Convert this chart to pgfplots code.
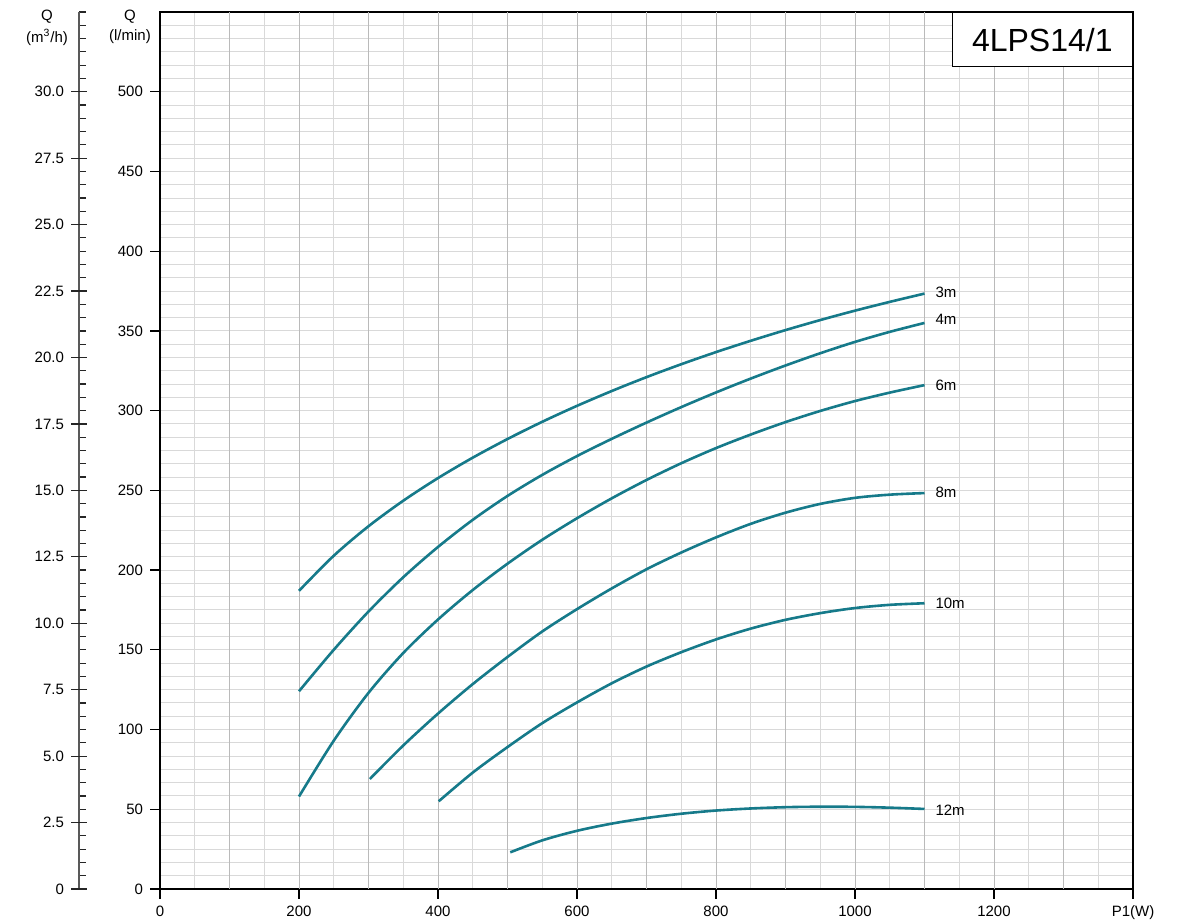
\documentclass[border=0pt]{standalone}
\usepackage{fontspec}
\setmainfont{Liberation Sans}
\usepackage{pgfplots}
\pgfplotsset{compat=1.18}
\definecolor{curve}{RGB}{22,122,138}
\begin{document}
\begin{tikzpicture}
\useasboundingbox (0,0) rectangle (590pt,461pt);
\begin{axis}[
 at={(80pt,16.5pt)}, anchor=south west,
 scale only axis, width=486.5pt, height=438.5pt,
 xmin=0,xmax=1400,ymin=0,ymax=550,
 axis line style={line width=0.8pt},
 xtick={0,200,...,1400}, xticklabels={0,200,400,600,800,1000,1200,P1(W)},
 ytick={0,50,...,500},
 tick pos=left,
 tick align=outside, major tick length=5pt,
 tick style={black, line width=0.6pt},
 minor xtick={50,100,...,1350},
 minor ytick={8.33333,16.66667,...,545},
 minor tick length=0pt,
 grid=minor,
 minor grid style={black!15, line width=0.5pt},
 extra x ticks={100,200,...,1300},
 extra x tick labels={},
 extra x tick style={grid=major, major grid style={black!27, line width=0.5pt}, major tick length=0pt},
 ticklabel style={font=\fontsize{7.5}{9}\selectfont},
 /pgf/number format/assume math mode=true,
 clip=false,
]
\addplot[curve, line width=1.3pt, smooth] coordinates {(200,187)(250,209)(300,227.5)(350,243.5)(400,257.7)(450,270.5)(500,282.2)(550,293)(600,303)(650,312.3)(700,321)(750,329.1)(800,336.7)(850,343.8)(900,350.5)(950,356.8)(1000,362.7)(1050,368.2)(1100,373.4)};
\addplot[curve, line width=1.3pt, smooth] coordinates {(200,124)(250,150)(300,174)(350,195.5)(400,214.5)(450,231.5)(500,246.5)(550,259.7)(600,271.5)(650,282.3)(700,292.5)(750,302.2)(800,311.4)(850,320.1)(900,328.3)(950,336)(1000,343.1)(1050,349.4)(1100,355)};
\addplot[curve, line width=1.3pt, smooth] coordinates {(200,58)(250,93)(300,123)(350,148)(400,169)(450,187.5)(500,204)(550,219)(600,232.5)(650,245)(700,256.5)(750,267)(800,276.5)(850,285)(900,292.8)(950,299.8)(1000,306)(1050,311.3)(1100,316)};
\addplot[curve, line width=1.3pt, smooth] coordinates {(302,69)(350,90)(400,110)(450,128.5)(500,145.5)(550,161.5)(600,175.5)(650,188.5)(700,200.5)(750,211)(800,220.5)(850,229)(900,236)(950,241.5)(1000,245.3)(1050,247.3)(1100,248.3)};
\addplot[curve, line width=1.3pt, smooth] coordinates {(401,55)(450,73)(500,89)(550,104)(600,117)(650,129)(700,139.5)(750,148.5)(800,156.5)(850,163.3)(900,168.8)(950,173)(1000,176.2)(1050,178.2)(1100,179.2)};
\addplot[curve, line width=1.3pt, smooth] coordinates {(504,23)(550,30.5)(600,36.5)(650,41)(700,44.5)(750,47.2)(800,49.2)(850,50.5)(900,51.3)(950,51.6)(1000,51.5)(1050,51)(1100,50.2)};
\begin{scope}[every node/.style={anchor=west, font=\fontsize{7.5}{9}\selectfont, xshift=2pt}]
\node at (axis cs:1100,374) {3m};
\node at (axis cs:1100,357) {4m};
\node at (axis cs:1100,316) {6m};
\node at (axis cs:1100,249) {8m};
\node at (axis cs:1100,179) {10m};
\node at (axis cs:1100,49.5) {12m};
\end{scope}
\node[draw, fill=white, line width=0.7pt, anchor=north east, minimum width=90pt, minimum height=27pt, font=\fontsize{16}{18}\selectfont] at (rel axis cs:1,1) {4LPS14/1};
\end{axis}
\begin{axis}[
 at={(39.5pt,16.5pt)}, anchor=south west, scale only axis, width=10pt, height=438.5pt,
 xmin=0,xmax=1,ymin=0,ymax=33,
 hide x axis,
 axis y line=left, axis line style={-, black!65, line width=1pt},
 ytick={0,2.5,...,30}, yticklabels={0,2.5,5.0,7.5,10.0,12.5,15.0,17.5,20.0,22.5,25.0,27.5,30.0},
 minor ytick={0,0.5,...,33.2},
 tick align=inside, major tick length=3.5pt, minor tick length=3.5pt,
 tick style={black!85, line width=0.6pt},
 extra y ticks={0,2.5,...,30}, extra y tick labels={},
 extra y tick style={tick align=center, major tick length=8pt},
 ticklabel style={font=\fontsize{7.5}{9}\selectfont},
 yticklabel style={xshift=-4pt},
]
\end{axis}
\begin{scope}[every node/.style={font=\fontsize{7.5}{9}\selectfont, inner sep=0pt}]
\node at (65pt,452.5pt) {Q};
\node at (65pt,442.5pt) {(l/min)};
\node at (23.5pt,452.5pt) {Q};
\node at (23.5pt,442.5pt) {(m\textsuperscript{3}/h)};
\end{scope}
\end{tikzpicture}
\end{document}
